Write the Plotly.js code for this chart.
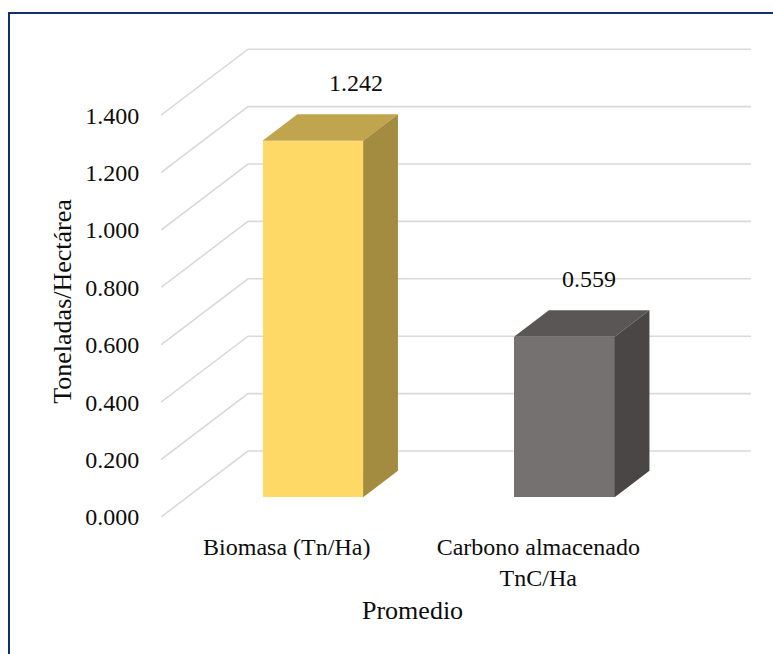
<!DOCTYPE html>
<html>
<head>
<meta charset="utf-8">
<script src="https://cdn.plot.ly/plotly-3.0.1.min.js"></script>
<style>
  html, body { margin: 0; padding: 0; background: #ffffff; }
  #wrap { position: relative; width: 773px; height: 654px; overflow: hidden; }
  #chart { position: absolute; left: 0; top: 0; width: 773px; height: 654px; }
  #frame { position: absolute; left: 8px; top: 12px; width: 800px; height: 700px;
           border-left: 2px solid #12306f; border-top: 2px solid #12306f; pointer-events: none; }
</style>
</head>
<body>
<div id="wrap">
  <div id="chart"></div>
  <div id="frame"></div>
</div>
<script>
// Average biomass and stored carbon (t/ha)
const categories = ['Biomasa (Tn/Ha)', 'Carbono almacenado<br>TnC/Ha'];
const values = [1.242, 0.559];
const valueLabels = ['1.242', '0.559'];
const yTicks = [0, 0.2, 0.4, 0.6, 0.8, 1.0, 1.2, 1.4];
const yTickText = ['0.000', '0.200', '0.400', '0.600', '0.800', '1.000', '1.200', '1.400'];

// colours: front, top, side
const faceColors = [
  ['#fed966', '#c1a54e', '#a38c40'],
  ['#767171', '#5a5655', '#4a4645']
];

// plot geometry (px)
const W = 773, H = 654;
const mL = 161, mR = 22, mT = 30, mB = 137;
const pxPerCat = 251.5;      // width of one category on the front plane
const pxPerUnit = 287;       // pixels per tonne on the front plane
const depthPxX = 87, depthPxY = 66;   // offset from front plane to back wall

const DX = depthPxX / pxPerCat;       // depth offset in x data units
const DY = depthPxY / pxPerUnit;      // depth offset in y data units
const xMin = -0.5;
const xMax = xMin + (W - mL - mR) / pxPerCat;
const yMax = (H - mT - mB) / pxPerUnit;
const frontRight = categories.length - 0.5;

const barW = 0.4;        // bar width in category units
const d0 = 0.3, d1 = 0.7; // bar front/back depth (fraction of depth)

// perspective gridlines drawn beneath the bars
const gridShapes = yTicks.map(v => ({
  type: 'path', xref: 'x', yref: 'y', layer: 'below',
  path: `M ${xMin},${v} L ${xMin + DX},${v + DY} L ${frontRight + DX},${v + DY}`,
  line: { color: '#d9d9d9', width: 1.6 }
}));

const traces = [];
// front faces
traces.push({
  type: 'bar',
  x: categories.map((c, i) => i + d0 * DX),
  y: values,
  base: values.map(() => d0 * DY),
  width: barW,
  marker: { color: faceColors.map(c => c[0]), line: { width: 0 } },
  hoverinfo: 'skip', showlegend: false
});
// top and side faces
values.forEach((v, i) => {
  const x0 = i - barW / 2 + d0 * DX;
  const x1 = i + barW / 2 + d0 * DX;
  const ox = (d1 - d0) * DX, oy = (d1 - d0) * DY;
  const yF = v + d0 * DY;
  traces.push({
    type: 'scatter', mode: 'lines', fill: 'toself',
    x: [x0, x1, x1 + ox, x0 + ox, x0],
    y: [yF, yF, yF + oy, yF + oy, yF],
    fillcolor: faceColors[i][1], line: { width: 0 },
    hoverinfo: 'skip', showlegend: false
  });
  traces.push({
    type: 'scatter', mode: 'lines', fill: 'toself',
    x: [x1, x1, x1 + ox, x1 + ox, x1],
    y: [d0 * DY, yF, yF + oy, d0 * DY + oy, d0 * DY],
    fillcolor: faceColors[i][2], line: { width: 0 },
    hoverinfo: 'skip', showlegend: false
  });
});

const font = '"Liberation Serif", "Times New Roman", serif';
const labelShift = [8, -10];
const annotations = values.map((v, i) => ({
  x: i + d1 * DX, y: v + d1 * DY, xref: 'x', yref: 'y',
  text: valueLabels[i], showarrow: false,
  xanchor: 'center', yanchor: 'middle',
  xshift: labelShift[i], yshift: 31,
  font: { family: font, size: 24, color: '#0d0d0d' }
}));
annotations.push({
  x: (xMin + frontRight) / 2, y: 0, xref: 'x', yref: 'y',
  text: 'Promedio', showarrow: false, xanchor: 'center', yanchor: 'middle',
  yshift: -93, font: { family: font, size: 26, color: '#0d0d0d' }
});
annotations.push({
  x: 0, xref: 'paper', xshift: -98, y: 1.4 / 2 + 0.05, yref: 'y',
  text: 'Toneladas/Hectárea', textangle: -90, showarrow: false,
  xanchor: 'center', yanchor: 'middle',
  font: { family: font, size: 26, color: '#0d0d0d' }
});

const layout = {
  width: W, height: H,
  margin: { l: mL, r: mR, t: mT, b: mB, pad: 0 },
  paper_bgcolor: '#ffffff', plot_bgcolor: 'rgba(0,0,0,0)',
  showlegend: false,
  font: { family: font, size: 24, color: '#0d0d0d' },
  xaxis: {
    type: 'linear', range: [xMin, xMax], fixedrange: true,
    tickmode: 'array', tickvals: categories.map((c, i) => i), ticktext: categories,
    showgrid: false, zeroline: false, showline: false,
    ticks: 'outside', ticklen: 8, tickcolor: 'rgba(0,0,0,0)',
    tickfont: { family: font, size: 24, color: '#0d0d0d' }
  },
  yaxis: {
    range: [0, yMax], fixedrange: true,
    tickmode: 'array', tickvals: yTicks, ticktext: yTickText,
    showgrid: false, zeroline: false, showline: false,
    ticks: 'outside', ticklen: 16, tickcolor: 'rgba(0,0,0,0)',
    tickfont: { family: font, size: 24, color: '#0d0d0d' }
  },
  shapes: gridShapes,
  annotations: annotations,
  bargap: 0
};

Plotly.newPlot('chart', traces, layout, { displayModeBar: false, staticPlot: true });
</script>
</body>
</html>
